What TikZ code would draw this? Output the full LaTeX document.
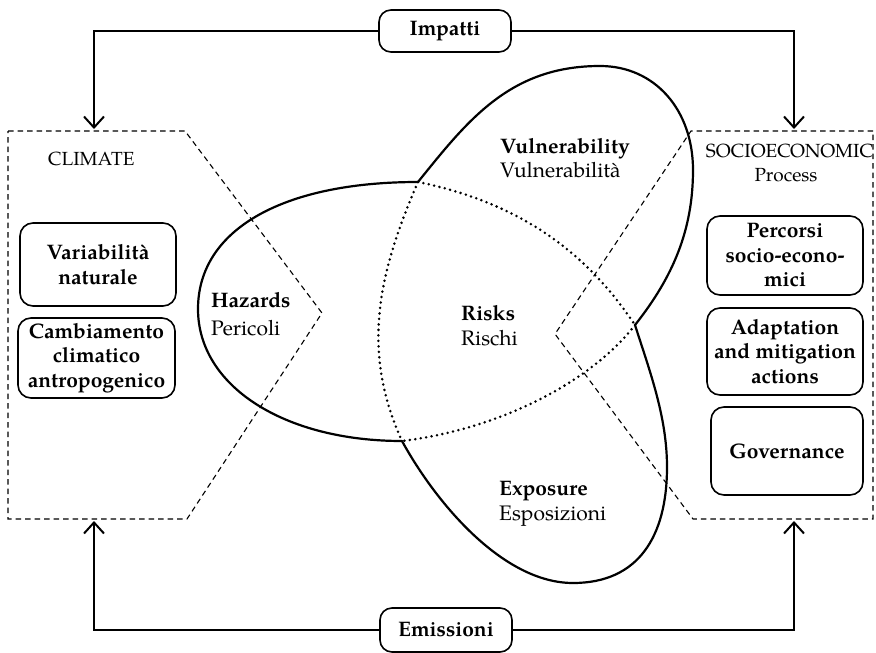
\documentclass[tikz,border=0pt]{standalone}
\usepackage{fontspec}
\setmainfont{texgyrepagella}[Extension=.otf,UprightFont=*-regular,BoldFont=*-bold,ItalicFont=*-italic,BoldItalicFont=*-bolditalic]
\usetikzlibrary{arrows.meta}

\tikzset{
  outline/.style={line width=2.2pt, line join=round, line cap=round},
  inline/.style={line width=2.8pt, line cap=round, dash pattern=on 0pt off 5.5pt},
  regionline/.style={line width=1.1pt, dash pattern=on 5.5pt off 4pt},
  bigtext/.style={font=\fontsize{21}{25}\selectfont, inner sep=0pt},
  boldtext/.style={font=\bfseries\fontsize{21}{25}\selectfont, inner sep=0pt},
  capstext/.style={font=\fontsize{19}{23}\selectfont, inner sep=0pt},
  factorbox/.style={draw, line width=1.6pt, rounded corners=13pt, align=center,
    font=\bfseries\fontsize{21}{24.5}\selectfont, inner sep=0pt},
  flowbox/.style={draw, line width=1.6pt, rounded corners=12pt, align=center,
    font=\bfseries\fontsize{21}{25}\selectfont, inner sep=0pt,
    minimum width=132pt, minimum height=42pt, fill=white},
  conn/.style={line width=2pt, -{Straight Barb[length=11pt,width=20pt,line width=2pt]}}
}

\begin{document}
\begin{tikzpicture}[x=1pt,y=-1pt]
\useasboundingbox (0,0) rectangle (876,653);

% dashed regions: climate on the left, socio-economic process on the right
\draw[regionline] (8,131) -- (185,131) -- (322,313) -- (187,519) -- (8,519) -- cycle;
\draw[regionline] (873,131) -- (691,131) -- (555,334) -- (693,519) -- (873,519) -- cycle;

% cusps where the lobes meet
\coordinate (ctop) at (418,182);
\coordinate (cright) at (635,325);
\coordinate (cbot) at (402,441);

% inner boundaries of the three overlapping lobes
\draw[inline] (ctop) .. controls (378,274) and (361,351) .. (cbot);
\draw[inline] (ctop) .. controls (536,206) and (596,267) .. (cright);
\draw[inline] (cright) .. controls (592,381) and (501,429) .. (cbot);

% outer boundary: hazards lobe
\draw[outline] (ctop) .. controls (282,182) and (198,230) .. (198,309)
  .. controls (198,386) and (284,441) .. (cbot);
% vulnerability lobe
\draw[outline] (ctop) .. controls (468,120) and (510,66) .. (600,66)
  .. controls (655,66) and (693,110) .. (693,170)
  .. controls (693,230) and (673,277) .. (cright);
% exposure lobe
\draw[outline] (cright) .. controls (650,372) and (667,417) .. (667,467)
  .. controls (667,537) and (638,583) .. (573,583)
  .. controls (503,583) and (436,503) .. (cbot);

% lobe labels
\node[boldtext, anchor=base west] (haz) at (211,307) {Hazards};
\node[bigtext, anchor=base west] (hazit) at (211,335) {Pericoli};
\node[boldtext, anchor=base west] (vul) at (500,153) {Vulnerability};
\node[bigtext, anchor=base west] (vulit) at (500,177) {Vulnerabilit\`a};
\node[boldtext, anchor=base west] (risk) at (461,320) {Risks};
\node[bigtext, anchor=base west] (riskit) at (461,345) {Rischi};
\node[boldtext, anchor=base west] (expo) at (499,495) {Exposure};
\node[bigtext, anchor=base west] (expoit) at (499,520) {Esposizioni};

% region titles
\node[capstext, anchor=base west] (clim) at (48,165) {CLIMATE};
\node[capstext, anchor=base] (socio) at (789.5,157) {SOCIOECONOMIC};
\node[capstext, anchor=base] (proc) at (786,181) {Process};

% climate drivers
\node[factorbox, minimum width=156pt, minimum height=83pt] (var) at (98,264.5) {Variabilit\`a\\naturale};
\node[factorbox, minimum width=157pt, minimum height=80pt] (cam) at (96.5,358) {Cambiamento\\climatico\\antropogenico};

% socio-economic drivers
\node[factorbox, minimum width=156pt, minimum height=79pt] (perc) at (785,255.5) {Percorsi\\socio-econo-\\mici};
\node[factorbox, minimum width=156pt, minimum height=87pt] (adapt) at (785,351.5) {Adaptation\\and mitigation\\actions};
\node[factorbox, minimum width=152pt, minimum height=88pt] (gov) at (787,451) {Governance};

% feedback loops
\node[flowbox] (imp) at (445,31) {Impatti};
\node[flowbox, minimum height=44pt] (emi) at (446,630) {Emissioni};

\coordinate (climin) at (94,129);
\coordinate (socin) at (794,129);
\coordinate (climout) at (94,521);
\coordinate (socout) at (794,521);

\draw[conn] (imp.west) -| (climin);
\draw[conn] (imp.east) -| (socin);
\draw[conn] (emi.west) -| (climout);
\draw[conn] (emi.east) -| (socout);
\end{tikzpicture}
\end{document}
